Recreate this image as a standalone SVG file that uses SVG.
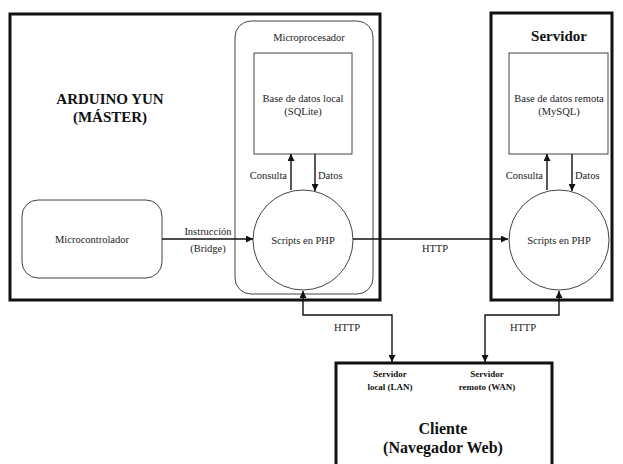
<svg xmlns="http://www.w3.org/2000/svg" width="623" height="464" viewBox="0 0 623 464" font-family="Liberation Serif, DejaVu Serif, serif">
<defs>
<marker id="ah" viewBox="0 0 10 10" refX="10" refY="5" markerWidth="7" markerHeight="7" markerUnits="userSpaceOnUse" orient="auto-start-reverse">
<path d="M0,0 L10,5 L0,10 z" fill="#111"/>
</marker>
<style>
text{fill:#222;text-anchor:middle}
.t{font-size:10.5px}
.b{font-weight:bold;fill:#111}
.big{font-size:15px}
.cl{font-size:16px}
.sm{font-size:9px}
.thick{fill:none;stroke:#111;stroke-width:3}
.thin{fill:none;stroke:#444;stroke-width:1}
.con{fill:none;stroke:#111;stroke-width:1.4}
</style>
</defs>
<rect width="623" height="464" fill="#fff"/>

<g id="arduino">
<rect class="thick" x="10" y="14" width="370" height="286"/>
<text class="b big" x="110" y="104">ARDUINO YUN</text>
<text class="b big" x="110" y="122">(MÁSTER)</text>
</g>

<g id="microprocesador">
<rect class="thin" x="235" y="21" width="138" height="273" rx="16"/>
<text class="t" x="309" y="41">Microprocesador</text>
</g>

<g id="bd-local">
<rect class="thin" x="254" y="53" width="98" height="101"/>
<text class="t" x="303" y="102">Base de datos local</text>
<text class="t" x="303" y="115">(SQLite)</text>
</g>

<g id="scripts-local">
<circle class="thin" cx="303" cy="240" r="50"/>
<text class="t" x="303" y="244">Scripts en PHP</text>
</g>

<g id="microcontrolador">
<rect class="thin" x="22" y="200" width="140" height="78" rx="16"/>
<text class="t" x="92" y="243">Microcontrolador</text>
</g>

<g id="servidor">
<rect class="thick" x="491" y="13" width="121" height="287"/>
<text class="b big" x="559" y="41">Servidor</text>
</g>

<g id="bd-remota">
<rect class="thin" x="509" y="53" width="99" height="101"/>
<text class="t" x="559" y="102">Base de datos remota</text>
<text class="t" x="559" y="115">(MySQL)</text>
</g>

<g id="scripts-remoto">
<circle class="thin" cx="559" cy="240" r="50"/>
<text class="t" x="559" y="244">Scripts en PHP</text>
</g>

<g id="cliente">
<rect class="thick" x="336" y="363" width="216" height="110"/>
<text class="b sm" x="390" y="377">Servidor</text>
<text class="b sm" x="390" y="390">local (LAN)</text>
<text class="b sm" x="487" y="377">Servidor</text>
<text class="b sm" x="487" y="390">remoto (WAN)</text>
<text class="b cl" x="443" y="434">Cliente</text>
<text class="b cl" x="443" y="453">(Navegador Web)</text>
</g>

<g id="connectors">
<line class="con" x1="162" y1="239" x2="253" y2="239" marker-end="url(#ah)"/>
<line class="con" x1="291" y1="190" x2="291" y2="154" marker-end="url(#ah)"/>
<line class="con" x1="315" y1="154" x2="315" y2="191" marker-end="url(#ah)"/>
<line class="con" x1="547" y1="190" x2="547" y2="154" marker-end="url(#ah)"/>
<line class="con" x1="572" y1="154" x2="572" y2="191" marker-end="url(#ah)"/>
<line class="con" x1="353" y1="239" x2="508" y2="239" marker-end="url(#ah)"/>
<polyline class="con" points="303,291 303,315 392,315 392,362" marker-start="url(#ah)" marker-end="url(#ah)"/>
<polyline class="con" points="559,291 559,315 485,315 485,362" marker-start="url(#ah)" marker-end="url(#ah)"/>
<text class="t" x="287" y="179" style="text-anchor:end">Consulta</text>
<text class="t" x="318" y="179" style="text-anchor:start">Datos</text>
<text class="t" x="543" y="179" style="text-anchor:end">Consulta</text>
<text class="t" x="575" y="179" style="text-anchor:start">Datos</text>
<text class="t" x="208" y="235">Instrucción</text>
<text class="t" x="208" y="252">(Bridge)</text>
<text class="t" x="435" y="252">HTTP</text>
<text class="t" x="347" y="331">HTTP</text>
<text class="t" x="523" y="331">HTTP</text>
</g>
</svg>
